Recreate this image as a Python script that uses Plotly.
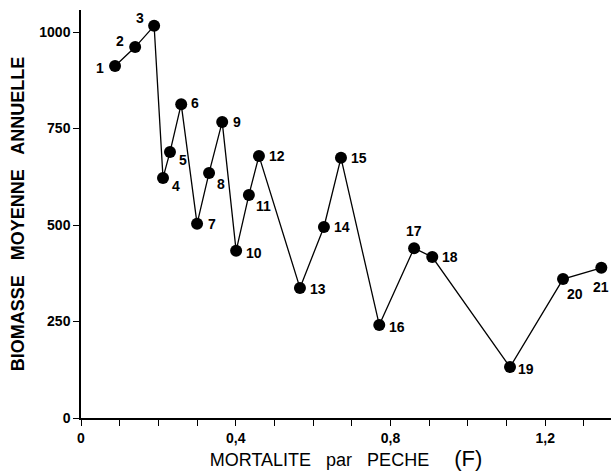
import plotly.graph_objects as go

# Fishing mortality (F) and mean annual biomass for each numbered year
labels = [str(i) for i in range(1, 22)]
mortality = [0.088, 0.140, 0.189, 0.212, 0.230, 0.259, 0.300, 0.331, 0.365, 0.401,
             0.434, 0.460, 0.566, 0.628, 0.672, 0.771, 0.861, 0.908, 1.109, 1.246, 1.345]
biomass = [912, 961, 1016, 622, 689, 813, 503, 635, 767, 433,
           578, 679, 337, 495, 674, 241, 440, 417, 132, 360, 389]

x_ticks = [0, 0.4, 0.8, 1.2]
x_tick_text = ["0", "0,4", "0,8", "1,2"]
y_ticks = [0, 250, 500, 750, 1000]

# label offsets (pixels) relative to each marker
offsets = [(-15, -2), (-15, 6), (-14, 8), (13, -8), (13, -8), (14, 1), (15, 0), (12, -11),
           (15, 0), (18, -2), (15, -11), (18, 0), (18, -1), (18, 0), (18, 0), (18, -2),
           (0, 17), (18, 0), (16, -2), (12, -15), (0, -19)]

fig = go.Figure()
fig.add_trace(go.Scatter(
    x=mortality, y=biomass, mode="lines+markers",
    line=dict(color="black", width=1.3),
    marker=dict(color="black", size=12),
    showlegend=False, hoverinfo="skip",
))

for lab, xv, yv, (dx, dy) in zip(labels, mortality, biomass, offsets):
    fig.add_annotation(x=xv, y=yv, text=lab, showarrow=False,
                       xshift=dx, yshift=dy,
                       font=dict(family="Liberation Sans", size=14, color="black", weight="bold"))

fig.update_layout(
    width=611, height=471,
    margin=dict(l=81, r=0, t=10, b=53),
    paper_bgcolor="white", plot_bgcolor="white",
    font=dict(family="Liberation Sans", color="black"),
    xaxis=dict(
        range=[0, 1.37], showgrid=False, zeroline=False,
        showline=True, linecolor="black", linewidth=1.5,
        tickmode="array", tickvals=[i / 10 for i in range(14)],
        ticktext=[x_tick_text[x_ticks.index(i / 10)] if (i % 4 == 0) else "" for i in range(14)],
        ticks="outside", ticklen=6, tickcolor="black",
        tickfont=dict(size=14, weight="bold"),
        title=dict(text="MORTALITE\u00a0\u00a0 par\u00a0\u00a0 PECHE\u00a0\u00a0\u00a0\u00a0 <span style='font-size:22px'>(F)</span>",
                   font=dict(size=18), standoff=0),
    ),
    yaxis=dict(
        range=[0, 1057], showgrid=False, zeroline=False,
        showline=True, linecolor="black", linewidth=1.5,
        tickmode="array", tickvals=y_ticks, ticktext=[str(v) for v in y_ticks],
        ticks="outside", ticklen=6, tickcolor="black",
        tickfont=dict(size=14, weight="bold"),
        title=dict(text="BIOMASSE\u00a0\u00a0 MOYENNE\u00a0\u00a0 ANNUELLE",
                   font=dict(size=18, weight="bold"), standoff=10),
    ),
)

fig.write_html("out.html")
